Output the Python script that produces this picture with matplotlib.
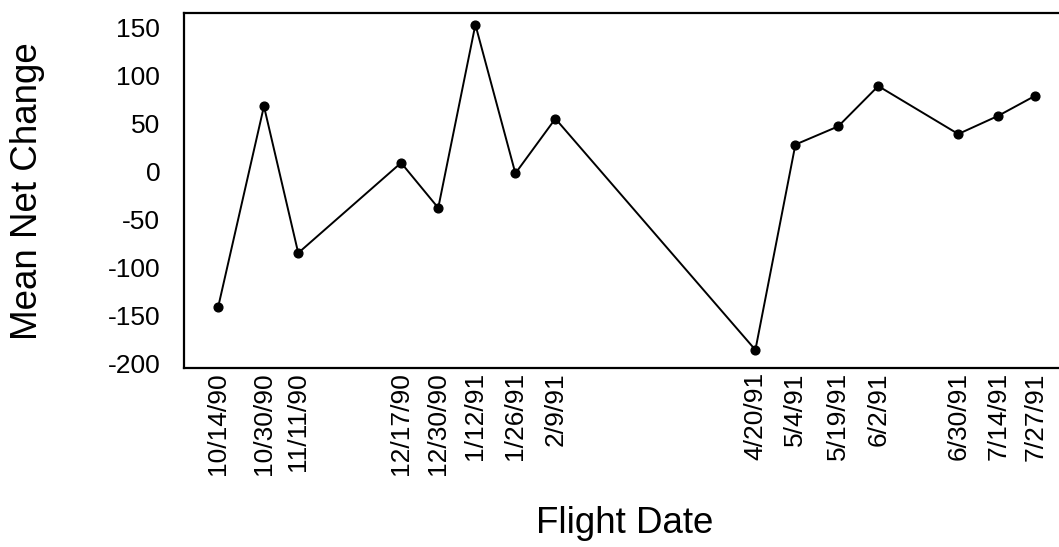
import numpy as np
import matplotlib
matplotlib.use("Agg")
import matplotlib.pyplot as plt
import pandas as pd

plt.rcParams['font.family'] = ['Liberation Sans', 'DejaVu Sans']

flight_dates = ["10/14/90", "10/30/90", "11/11/90", "12/17/90", "12/30/90",
                "1/12/91", "1/26/91", "2/9/91", "4/20/91", "5/4/91",
                "5/19/91", "6/2/91", "6/30/91", "7/14/91", "7/27/91"]
mean_net_change = [-141, 68, -85, 9, -38, 153, -2, 55, -186, 28,
                   47, 89, 39, 58, 79]
y_ticks = [-200, -150, -100, -50, 0, 50, 100, 150]

dates = pd.to_datetime(flight_dates, format="%m/%d/%y")

fig = plt.figure(figsize=(10.59, 5.47), dpi=100)
ax = fig.add_axes([0.1737, 0.327, 0.8283, 0.649])

ax.plot(dates, mean_net_change, color="black", linewidth=1.4,
        marker="o", markersize=6.3)

ax.set_xlim(dates[0] - pd.Timedelta(days=12), dates[-1] + pd.Timedelta(days=9))
ax.set_ylim(-205, 165)
ax.set_xticks(dates)
ax.set_xticklabels(flight_dates, rotation=90, fontsize=19)
ax.set_yticks(y_ticks)
ax.set_yticklabels([str(v) for v in y_ticks], fontsize=19)
ax.tick_params(length=0)
ax.tick_params(axis="y", pad=17)
ax.tick_params(axis="x", pad=3)

for side in ["left", "bottom", "top"]:
    ax.spines[side].set_linewidth(1.6)
ax.spines["right"].set_visible(False)

ax.set_ylabel("Mean Net Change", fontsize=26.5)
ax.yaxis.set_label_coords(-0.158, 0.5)
ax.set_xlabel("Flight Date", fontsize=26.5)
ax.xaxis.set_label_coords(0.503, -0.387)

fig.savefig("out.png", dpi=100)
